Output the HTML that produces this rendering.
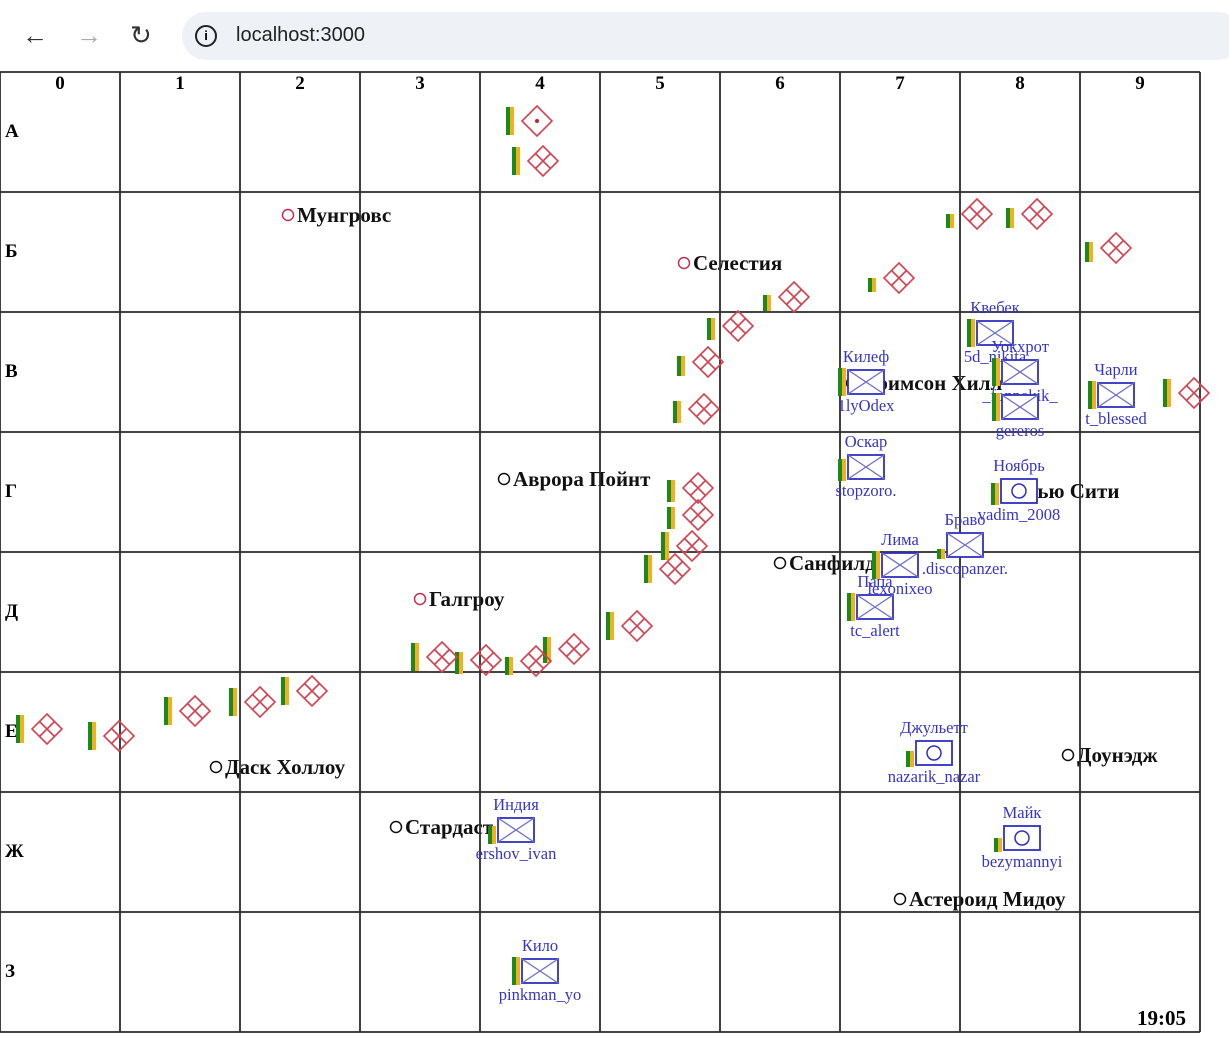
<!DOCTYPE html>
<html><head><meta charset="utf-8"><style>
html,body{margin:0;padding:0;background:#fff;width:1229px;height:1054px;overflow:hidden;font-family:"Liberation Serif",serif}
#chrome{position:absolute;left:0;top:0;width:1229px;height:72px;background:#fff}
#url{position:absolute;left:182px;top:12px;width:1060px;height:48px;border-radius:24px;background:#eef1f6}
.nav{position:absolute;top:20px;font:26px "Liberation Sans",sans-serif;color:#333}
#urltext{position:absolute;left:236px;top:24px;font:20px "Liberation Sans",sans-serif;color:#222}
svg{position:absolute;left:0;top:0}
</style></head><body>
<div id="chrome">
<div class="nav" style="left:22px">←</div>
<div class="nav" style="left:76px;color:#aaa">→</div>
<div class="nav" style="left:130px">↻</div>
<div id="url"></div>
<div style="position:absolute;left:195px;top:25px;width:18px;height:18px;border:2px solid #222;border-radius:50%;font:bold 13px 'Liberation Sans',sans-serif;text-align:center;line-height:18px">i</div>
<div id="urltext">localhost:3000</div>
</div>
<svg id="map" width="1229" height="1054"></svg>
<script>
const colLabels=["0","1","2","3","4","5","6","7","8","9"];
const rowLabels=["А","Б","В","Г","Д","Е","Ж","З"];
const cityNames=["Мунгровс","Селестия","Галгроу","Аврора Пойнт","Санфилд","Даск Холлоу","Стардаст","Доунэдж","Астероид Мидоу","Кримсон Хилл","Нью Сити"];
const cityX=[288,684,420,504,780,216,396,1068,900,852,1012];
const cityY=[215,263,599,479,563,767,827,755,899,383,491];
const cityRed=[1,1,1,0,0,0,0,0,0,0,0];
const redX=[537,543,977,1037,1116,899,794,738,708,704,698,698,692,675,637,574,536,486,442,312,260,195,119,47,1194];
const redY=[121,161,214,214,248,278,297,326,362,409,488,515,546,569,626,649,661,660,657,691,702,711,736,729,393];
const redBar=[28,28,14,20,20,14,16,22,20,22,22,22,28,28,28,26,18,22,28,28,28,28,28,28,28];
const blueNames=["Кило","Индия","Майк","Джульетт","Папа","Лима","Браво","Ноябрь","Оскар","Килеф","Квебек","Уокхрот","","Чарли"];
const blueSub=["pinkman_yo","ershov_ivan","bezymannyi","nazarik_nazar","tc_alert","lexonixeo",".discopanzer.","vadim_2008","stopzoro.","1lyOdex","5d_nikita","_fonpekik_","gereros","t_blessed"];
const blueX=[540,516,1022,934,875,900,965,1019,866,866,995,1020,1020,1116];
const blueY=[971,830,838,753,607,565,545,491,467,382,333,372,407,395];
const blueCircle=[0,0,1,1,0,0,0,1,0,0,0,0,0,0];
const blueBar=[28,18,14,16,28,28,10,22,22,28,28,28,28,28];
const NS="http://www.w3.org/2000/svg";
const svg=document.getElementById('map');
const X0=0,Y0=72,CW=120,CH=120;
function colX(i){return X0+i*CW;}
function rowY(i){return Y0+i*CH;}
function mk(t,a,p){const e=document.createElementNS(NS,t);for(const k in a)e.setAttribute(k,a[k]);(p||svg).appendChild(e);return e;}
cityNames.forEach((n,i)=>{
 const g=mk('g',{});
 
 
 mk('circle',{cx:cityX[i],cy:cityY[i],r:5.5,fill:'none',stroke:cityRed[i]?'#c03050':'#111','stroke-width':1.5},g);
 const t=mk('text',{x:cityX[i]+9,y:cityY[i]+7,'font-size':21,'font-weight':'bold',fill:'#111'},g);t.textContent=n;
});
const grid=mk('g',{stroke:'#2a2a2a','stroke-width':1.8});


for(let i=0;i<=10;i++)mk('line',{x1:colX(i),y1:rowY(0),x2:colX(i),y2:rowY(8)},grid);
for(let j=0;j<=8;j++)mk('line',{x1:0,y1:rowY(j),x2:colX(10),y2:rowY(j)},grid);
colLabels.forEach((c,i)=>{const t=mk('text',{x:colX(i)+60,y:rowY(0)+17,'text-anchor':'middle','font-size':19,'font-weight':'bold'});t.textContent=c;
 
 });
rowLabels.forEach((r,i)=>{const t=mk('text',{x:5,y:rowY(i)+65,'font-size':19,'font-weight':'bold'});t.textContent=r;
 
 });
function bar(x,y,h,g){mk('rect',{x:x,y:y+14-h,width:4,height:h,fill:'#1a8a1a'},g);mk('rect',{x:x+4,y:y+14-h,width:4,height:h,fill:'#f0b020'},g);}
redX.forEach((x,i)=>{
 const y=redY[i];const g=mk('g',{});
 
 
 bar(x-31,y,redBar[i],g);
 const s=15;
 mk('polygon',{points:`${x},${y-s} ${x+s},${y} ${x},${y+s} ${x-s},${y}`,fill:'none',stroke:'#d84050','stroke-width':1.6},g);
 if(i===0)mk('circle',{cx:x,cy:y,r:2,fill:'#c02030'},g);
 else{mk('line',{x1:x-s/2,y1:y-s/2,x2:x+s/2,y2:y+s/2,stroke:'#d84050','stroke-width':1.6},g);mk('line',{x1:x+s/2,y1:y-s/2,x2:x-s/2,y2:y+s/2,stroke:'#d84050','stroke-width':1.6},g);}
});
blueX.forEach((x,i)=>{
 const y=blueY[i];const g=mk('g',{});
 
 
 bar(x-28,y,blueBar[i],g);
 mk('rect',{x:x-18,y:y-12,width:36,height:24,fill:'#fff',stroke:'#3030c0','stroke-width':1.8},g);
 if(blueCircle[i])mk('circle',{cx:x,cy:y,r:7,fill:'none',stroke:'#3030c0','stroke-width':1.5},g);
 else{mk('line',{x1:x-18,y1:y-12,x2:x+18,y2:y+12,stroke:'#7070d0','stroke-width':1.3},g);mk('line',{x1:x+18,y1:y-12,x2:x-18,y2:y+12,stroke:'#7070d0','stroke-width':1.3},g);}
 const a=mk('text',{x:x,y:y-20,'text-anchor':'middle','font-size':16.5,fill:'#3535c8'},g);a.textContent=blueNames[i];
 const b=mk('text',{x:x,y:y+29,'text-anchor':'middle','font-size':16.5,fill:'#3535c8'},g);b.textContent=blueSub[i];
});
const tm=mk('text',{x:1137,y:1025,'font-size':21,'font-weight':'bold'});tm.textContent='19:05';


</script>
</body></html>
